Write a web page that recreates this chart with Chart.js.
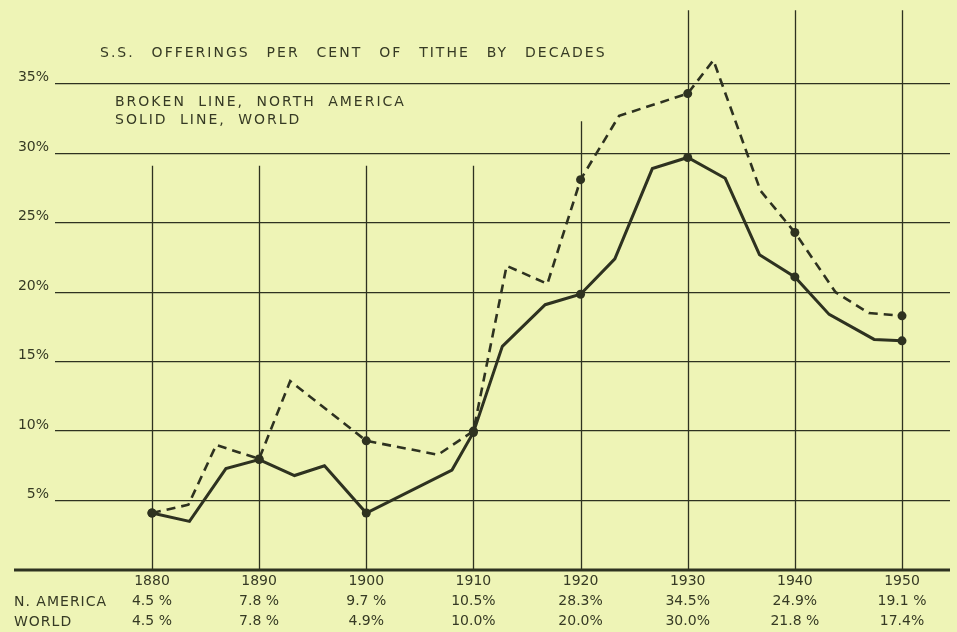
<!DOCTYPE html>
<html>
<head>
<meta charset="utf-8">
<script src="https://cdn.jsdelivr.net/npm/chart.js@4.4.1/dist/chart.umd.min.js"></script>
<style>
  html, body { margin: 0; padding: 0; background: #eef4b6; }
  .wrap { position: relative; width: 957px; height: 632px; }
  canvas { position: absolute; left: 0; top: 0; }
  .note {
    position: absolute;
    font-family: 'DejaVu Sans', sans-serif;
    color: #363a24;
    font-size: 14px;
    letter-spacing: 2px;
    white-space: nowrap;
  }
</style>
</head>
<body>
<div class="wrap">
  <canvas id="chart" width="957" height="632"></canvas>
  <div class="note" style="left:100px; top:44px; word-spacing:10.5px;">S.S. OFFERINGS PER CENT OF TITHE BY DECADES</div>
  <div class="note" style="left:115px; top:92px; line-height:18px; word-spacing:6px;">BROKEN LINE, NORTH AMERICA<br>SOLID LINE, WORLD</div>
</div>
<script>
// decade labels and the table printed under the axis
const decades = [1880, 1890, 1900, 1910, 1920, 1930, 1940, 1950];
const naRow = ['4.5 %', '7.8 %', '9.7 %', '10.5%', '28.3%', '34.5%', '24.9%', '19.1 %'];
const worldRow = ['4.5 %', '7.8 %', '4.9%', '10.0%', '20.0%', '30.0%', '21.8 %', '17.4%'];
const yTicks = [5, 10, 15, 20, 25, 30, 35];

// broken line, North America
const naYears = [1880, 1883.4, 1886, 1890, 1892.9, 1900, 1906.7, 1910, 1913.1, 1916.9, 1920, 1923.6, 1930, 1932.4, 1936.8, 1940, 1943.8, 1946.9, 1950];
const naValues = [4.1, 4.7, 9.0, 8.0, 13.6, 9.3, 8.3, 10.0, 21.9, 20.6, 28.1, 32.7, 34.3, 36.7, 27.3, 24.3, 20.0, 18.5, 18.3];

// solid line, world
const worldYears = [1880, 1883.5, 1886.9, 1890, 1893.3, 1896.1, 1900, 1908, 1910, 1912.7, 1916.7, 1920, 1923.2, 1926.7, 1930, 1933.5, 1936.7, 1940, 1943.2, 1947.4, 1950];
const worldValues = [4.1, 3.5, 7.3, 7.95, 6.8, 7.5, 4.1, 7.2, 9.9, 16.1, 19.1, 19.85, 22.4, 28.9, 29.7, 28.2, 22.7, 21.1, 18.4, 16.6, 16.5];

const INK = '#2e3220';
const TEXT = '#363a24';
const FONT = "'DejaVu Sans', sans-serif";

// how far up each decade rule is drawn (in % units)
const ruleTops = [29.1, 29.1, 29.1, 29.1, 32.3, 40.3, 40.3, 40.3];

const toPoints = (xs, ys) => xs.map((x, i) => ({ x: x, y: ys[i] }));
const dotAtDecade = ctx => (ctx.raw && decades.includes(ctx.raw.x)) ? 4.5 : 0;

const frame = {
    id: 'frame',
    beforeDatasetsDraw(chart) {
        const { ctx, chartArea, scales: { x, y } } = chart;
        ctx.save();
        ctx.strokeStyle = INK;
        ctx.lineWidth = 1.3;
        decades.forEach((d, i) => {
            const px = Math.round(x.getPixelForValue(d)) + 0.5;
            ctx.beginPath();
            ctx.moveTo(px, y.getPixelForValue(ruleTops[i]));
            ctx.lineTo(px, y.getPixelForValue(0));
            ctx.stroke();
        });
        // heavy base line
        ctx.lineWidth = 3;
        const by = y.getPixelForValue(0);
        ctx.beginPath();
        ctx.moveTo(14, by);
        ctx.lineTo(chartArea.right, by);
        ctx.stroke();
        ctx.restore();
    },
    afterDraw(chart) {
        const { ctx, chartArea } = chart;
        ctx.save();
        ctx.fillStyle = TEXT;
        ctx.font = '14px ' + FONT;
        ctx.letterSpacing = '1px';
        ctx.textBaseline = 'middle';
        ctx.fillText('N. AMERICA', 14, chartArea.bottom + 32);
        ctx.fillText('WORLD', 14, chartArea.bottom + 52);
        ctx.restore();
    }
};

new Chart(document.getElementById('chart'), {
    type: 'line',
    data: {
        datasets: [
            {
                label: 'North America',
                data: toPoints(naYears, naValues),
                borderColor: INK,
                borderWidth: 2.6,
                borderDash: [9, 6],
                pointRadius: dotAtDecade,
                pointBackgroundColor: INK,
                pointBorderWidth: 0,
                tension: 0
            },
            {
                label: 'World',
                data: toPoints(worldYears, worldValues),
                borderColor: INK,
                borderWidth: 3,
                pointRadius: dotAtDecade,
                pointBackgroundColor: INK,
                pointBorderWidth: 0,
                tension: 0
            }
        ]
    },
    options: {
        responsive: false,
        animation: false,
        events: [],
        layout: { padding: { top: 5, right: 7, left: 0, bottom: 0 } },
        scales: {
            x: {
                type: 'linear',
                min: 1870.95,
                max: 1954.48,
                afterBuildTicks: axis => { axis.ticks = decades.map(v => ({ value: v })); },
                afterFit: scale => { scale.height = 62; },
                grid: { display: false },
                border: { display: false },
                ticks: {
                    autoSkip: false,
                    maxRotation: 0,
                    padding: -7,
                    color: TEXT,
                    font: { family: FONT, size: 14, lineHeight: 1.43 },
                    callback: (v, i) => [String(v), naRow[i], worldRow[i]]
                }
            },
            y: {
                min: 0,
                max: 40,
                afterBuildTicks: axis => { axis.ticks = yTicks.map(v => ({ value: v })); },
                afterFit: scale => { scale.width = 55; },
                grid: { color: INK, lineWidth: 1.3, drawTicks: false },
                border: { display: false },
                ticks: {
                    padding: 6,
                    labelOffset: -6,
                    color: TEXT,
                    font: { family: FONT, size: 14 },
                    callback: v => v + '%'
                }
            }
        },
        plugins: {
            legend: { display: false },
            tooltip: { enabled: false }
        }
    },
    plugins: [frame]
});
</script>
</body>
</html>
